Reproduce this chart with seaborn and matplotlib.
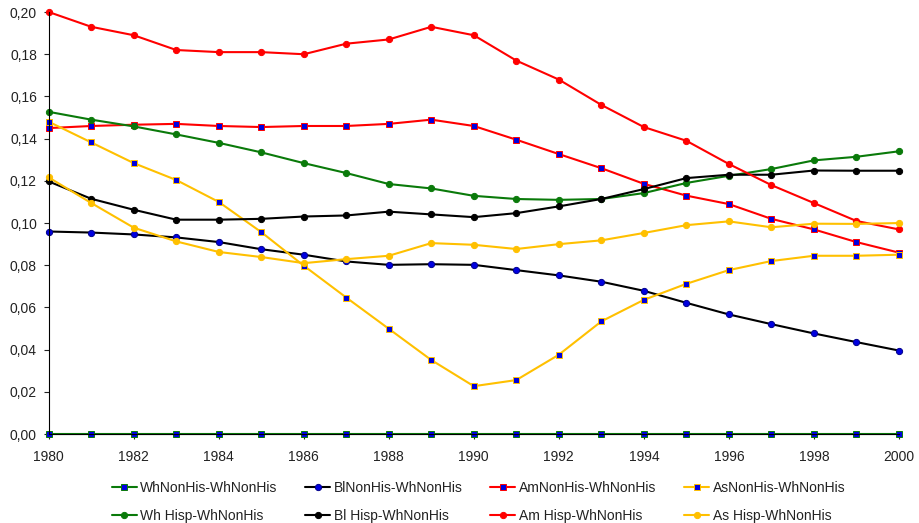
import numpy as np
import pandas as pd
import matplotlib
matplotlib.use("Agg")
import matplotlib.pyplot as plt
from matplotlib.ticker import FuncFormatter, MultipleLocator
from matplotlib.lines import Line2D
import seaborn as sns

years = list(range(1980, 2001))

# dissimilarity vs WhNonHis
wh_nonhis = [0.0] * 21
bl_nonhis = [0.096, 0.0955, 0.0946, 0.0932, 0.091, 0.0876, 0.085, 0.0818, 0.0802, 0.0805, 0.0802,
             0.0777, 0.0752, 0.0722, 0.0679, 0.0622, 0.0567, 0.0521, 0.0477, 0.0436, 0.0396]
am_nonhis = [0.145, 0.146, 0.1466, 0.147, 0.146, 0.1455, 0.146, 0.146, 0.147, 0.149, 0.146,
             0.1395, 0.1327, 0.126, 0.1186, 0.113, 0.109, 0.102, 0.097, 0.091, 0.086]
as_nonhis = [0.148, 0.1382, 0.1284, 0.1204, 0.110, 0.0957, 0.0798, 0.0647, 0.0499, 0.0351, 0.0227,
             0.0256, 0.0376, 0.0534, 0.0636, 0.0712, 0.0777, 0.082, 0.0845, 0.0845, 0.085]
wh_hisp = [0.1527, 0.149, 0.1458, 0.142, 0.138, 0.1335, 0.1284, 0.1237, 0.1185, 0.1164, 0.1129,
           0.1114, 0.111, 0.1114, 0.1142, 0.119, 0.1224, 0.1256, 0.1297, 0.1314, 0.134]
bl_hisp = [0.1197, 0.1115, 0.1063, 0.1016, 0.1016, 0.102, 0.1031, 0.1036, 0.1054, 0.1041, 0.1028,
           0.1047, 0.1079, 0.1114, 0.1161, 0.1213, 0.1229, 0.1229, 0.1249, 0.1248, 0.1248]
am_hisp = [0.200, 0.193, 0.189, 0.182, 0.181, 0.181, 0.180, 0.185, 0.187, 0.193, 0.189,
           0.177, 0.168, 0.156, 0.1455, 0.139, 0.128, 0.118, 0.1095, 0.101, 0.097]
as_hisp = [0.1216, 0.1095, 0.0978, 0.0913, 0.0863, 0.0839, 0.081, 0.0829, 0.0845, 0.0905, 0.0897,
           0.0877, 0.090, 0.0918, 0.0953, 0.099, 0.1008, 0.098, 0.0997, 0.0996, 0.100]

labels = ["WhNonHis-WhNonHis", "BlNonHis-WhNonHis", "AmNonHis-WhNonHis", "AsNonHis-WhNonHis",
          "Wh Hisp-WhNonHis", "Bl Hisp-WhNonHis", "Am Hisp-WhNonHis", "As Hisp-WhNonHis"]
series = [wh_nonhis, bl_nonhis, am_nonhis, as_nonhis, wh_hisp, bl_hisp, am_hisp, as_hisp]

GREEN, BLACK, RED, YELLOW, BLUE = "#0a7a0a", "#000000", "#ff0000", "#ffc000", "#0000e0"
line_colors = [GREEN, BLACK, RED, YELLOW, GREEN, BLACK, RED, YELLOW]
face_colors = [BLUE, BLUE, BLUE, BLUE, GREEN, BLACK, RED, YELLOW]
markers = ["s", "o", "s", "s", "o", "o", "o", "o"]

sns.set_style("white")
plt.rcParams["font.family"] = ["Liberation Sans", "DejaVu Sans"]

fig, ax = plt.subplots(figsize=(9.2, 5.23), dpi=100)
fig.subplots_adjust(left=0.053, right=0.977, top=0.977, bottom=0.17)

handles = []
for lab, vals, lc, fc, mk in zip(labels, series, line_colors, face_colors, markers):
    df = pd.DataFrame({"year": years, "value": vals})
    ms = 4.5 if mk == "s" else 4.5
    ec = lc if mk == "s" else (fc if fc != BLUE else "#00008a")
    sns.lineplot(data=df, x="year", y="value", ax=ax, color=lc, linewidth=1.5,
                 marker=mk, markersize=ms, markerfacecolor=fc, markeredgecolor=ec,
                 markeredgewidth=0.7, clip_on=False)
    handles.append(Line2D([0], [0], color=lc, linewidth=1.5, marker=mk, markersize=ms,
                          markerfacecolor=fc, markeredgecolor=ec, markeredgewidth=0.7,
                          label=lab))

ax.set_xlim(1980, 2000)
ax.set_ylim(0, 0.20)
ax.xaxis.set_major_locator(MultipleLocator(2))
ax.yaxis.set_major_locator(MultipleLocator(0.02))
ax.yaxis.set_major_formatter(FuncFormatter(lambda v, p: f"{v:.2f}".replace(".", ",")))
ax.set_xlabel("")
ax.set_ylabel("")
ax.tick_params(axis="both", which="major", direction="out", length=3.5, width=0.8,
               labelsize=10, colors="#222222", left=True, bottom=True)
ax.tick_params(axis="x", pad=8)
ax.tick_params(axis="y", pad=5)
for s in ["top", "right"]:
    ax.spines[s].set_visible(False)
for s in ["left", "bottom"]:
    ax.spines[s].set_color("black")
    ax.spines[s].set_linewidth(0.8)

# column-major order so that the NonHis series make the first row
order = [0, 4, 1, 5, 2, 6, 3, 7]
leg = ax.legend([handles[i] for i in order], [labels[i] for i in order], ncol=4,
                loc="upper center", bbox_to_anchor=(0.52, 0.104), bbox_transform=fig.transFigure,
                frameon=False, fontsize=10, handlelength=1.8, columnspacing=2.0,
                labelspacing=1.0, handletextpad=0.25)
for t in leg.get_texts():
    t.set_color("#222222")

fig.savefig("out.png", dpi=100)
